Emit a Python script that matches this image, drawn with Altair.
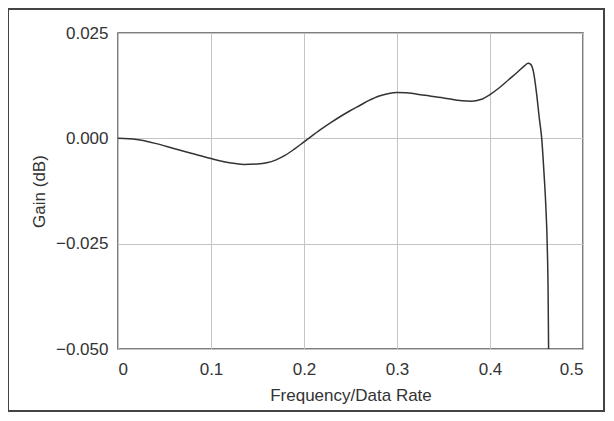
import altair as alt
import pandas as pd

freq = [0, 0.02, 0.04, 0.06, 0.08, 0.10, 0.12, 0.135, 0.15, 0.16,
        0.17, 0.18, 0.19, 0.20, 0.21, 0.22, 0.23, 0.24, 0.25, 0.26,
        0.27, 0.28, 0.29, 0.30, 0.31, 0.33, 0.35, 0.37, 0.38, 0.39,
        0.40, 0.41, 0.42, 0.43, 0.437, 0.441, 0.444, 0.447, 0.450, 0.453,
        0.4556, 0.458, 0.460, 0.4615, 0.4625, 0.463]
gain = [0, -0.0003, -0.0012, -0.0024, -0.0036, -0.0048, -0.0058, -0.0062, -0.0061, -0.0058,
        -0.0051, -0.0040, -0.0025, -0.00085, 0.0008, 0.0024, 0.0039, 0.0053, 0.0066, 0.0078,
        0.0090, 0.0100, 0.0106, 0.0109, 0.0108, 0.0102, 0.0096, 0.0089, 0.0088, 0.0092,
        0.0104, 0.0120, 0.0139, 0.0158, 0.0172, 0.0178, 0.0175, 0.0155, 0.0108, 0.0048,
        0.0, -0.008, -0.016, -0.025, -0.037, -0.050]
x_ticks = [0, 0.1, 0.2, 0.3, 0.4, 0.5]
y_ticks = [-0.050, -0.025, 0.000, 0.025]

df = pd.DataFrame({"freq": freq, "gain": gain})

W, H = 465, 316
FONT = "Liberation Sans"

line = alt.Chart(df).mark_line(color="#333333", strokeWidth=1.5, interpolate="monotone").encode(
    x=alt.X("freq:Q", scale=alt.Scale(domain=[0, 0.5], nice=False),
            axis=alt.Axis(values=x_ticks, format="~g", title="Frequency/Data Rate",
                          titlePadding=10, labelPadding=12)),
    y=alt.Y("gain:Q", scale=alt.Scale(domain=[-0.05, 0.025], nice=False),
            axis=alt.Axis(values=y_ticks, format=".3f", title="Gain (dB)",
                          titlePadding=7, labelPadding=10)),
)

frame = alt.Chart(df).mark_rect(fill=None, stroke="#444444", strokeWidth=1.5).encode(
    x=alt.value(-110), x2=alt.value(W + 21),
    y=alt.value(-24), y2=alt.value(H + 62),
)

chart = alt.layer(line, frame).properties(
    width=W, height=H,
    autosize=alt.AutoSizeParams(type="none"),
    padding={"left": 110, "top": 25, "right": 22, "bottom": 64},
).configure_view(
    stroke="#555555", strokeWidth=1.5
).configure_axis(
    domain=False, ticks=False,
    grid=True, gridColor="#c4c4c4", gridWidth=1,
    labelFont=FONT, labelFontSize=17, labelColor="#333333",
    titleFont=FONT, titleFontSize=17, titleColor="#333333", titleFontWeight="normal",
)

chart.save("out.html", embed_options={"renderer": "svg", "actions": False})
